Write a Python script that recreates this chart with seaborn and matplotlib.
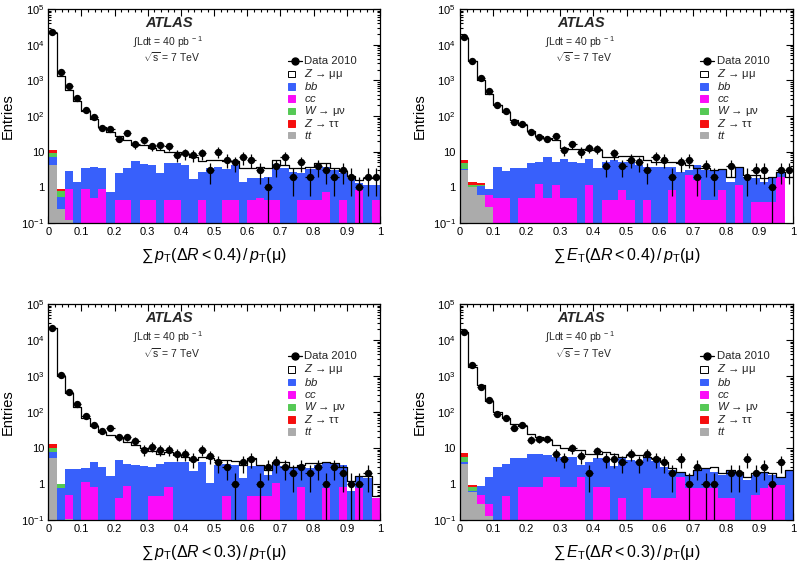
import numpy as np
import pandas as pd
import matplotlib
matplotlib.use("Agg")
import matplotlib.pyplot as plt
import seaborn as sns
from matplotlib.patches import Rectangle
from matplotlib.lines import Line2D
from matplotlib.ticker import MultipleLocator, LogLocator, FuncFormatter, NullFormatter

sns.set_theme(style="ticks")
plt.rcParams['font.family'] = ['Liberation Sans', 'DejaVu Sans']
plt.rcParams['mathtext.fontset'] = 'custom'
plt.rcParams['mathtext.rm'] = 'Liberation Sans'
plt.rcParams['mathtext.it'] = 'Liberation Sans:italic'
plt.rcParams['mathtext.bf'] = 'Liberation Sans:bold'
plt.rcParams['axes.edgecolor'] = 'black'

# ---------------- data (40 bins of width 0.025 on [0, 1]) ----------------
bin_lo, bin_hi, n_bins = 0.0, 1.0, 40

# panel 1 : sum pT (dR<0.4) / pT(mu)
p1_data = [23000, 1700, 690, 315, 148, 92, 46, 43, 23, 34,
           16, 21, 14, 15, 14, 8, 9, 8, 9, 3,
           10, 6, 5, 7, 6, 3, 1, 4, 7, 2,
           5, 2, 4, 3, 2, 3, 2, 1, 2, 2]
p1_total = [21000, 1300, 520, 270, 140, 80, 50, 35, 27, 21,
            15, 15, 13, 11, 10, 10, 8.5, 7.3, 5.5, 5.8,
            5.8, 5.5, 5.5, 3.4, 3.4, 3.8, 3.4, 5.8, 4.2, 3.4,
            3.4, 3.8, 4.9, 4.9, 3.4, 2.8, 2.1, 1.6, 1.8, 1.8]
p1_bb = [7.2, 0.55, 2.8, 1.45, 3.4, 3.8, 3.4, 0.75, 2.6, 3.4,
         5.6, 4.5, 4.3, 2.5, 4.9, 4.9, 4.3, 1.7, 2.75, 3.4,
         3.7, 3.2, 4.3, 1.45, 1.8, 1.8, 2.0, 4.4, 3.4, 2.7,
         2.5, 3.2, 3.2, 3.8, 3.0, 2.5, 1.8, 1.35, 1.15, 1.15]
p1_cc = [0, 0, 0.9, 0, 0.9, 0.5, 0.9, 0, 0.45, 0.45,
         0, 0.45, 0.45, 0, 0.45, 0.45, 0, 0, 0.45, 0,
         0, 0.45, 0.45, 0, 0.45, 0.5, 0.45, 0.45, 0, 0,
         0.45, 0.45, 0.45, 0.75, 0, 0.45, 0, 0.85, 0, 0.45]
p1_tt = [4.2, 0.25, 0.12]
p1_wmn = [9.0, 0.81]
p1_ztt = [11.0, 0.9]

# panel 2 : sum ET (dR<0.4) / pT(mu)
p2_data = [16000, 3500, 1150, 500, 210, 140, 66, 60, 36, 25,
           23, 28, 11, 16, 10, 13, 12, 4, 9, 4,
           6, 5, 3, 7, 6, 2, 5, 6, 2, 4,
           2, 0, 4, 0, 2, 3, 3, 1, 3, 3]
p2_total = [15000, 3500, 1000, 420, 200, 130, 75, 55, 38, 28,
            24, 21, 13, 12, 12, 11, 11, 7, 7, 7.5,
            7.5, 7.5, 5.8, 5.3, 5.3, 5.3, 4.7, 4.2, 3.4, 3.4,
            3.0, 3.2, 2.0, 3.8, 2.2, 2.2, 1.8, 2.0, 2.7, 2.0]
p2_bb = [3.3, 1.05, 1.1, 0.9, 3.8, 2.8, 3.4, 3.4, 4.9, 5.0,
         7.0, 5.0, 6.1, 5.2, 4.7, 6.2, 3.4, 5.2, 6.0, 5.0,
         5.0, 4.2, 3.8, 3.8, 3.8, 3.6, 2.75, 3.1, 4.2, 3.0,
         3.0, 3.0, 1.45, 3.4, 2.0, 1.8, 1.45, 1.8, 2.5, 0]
p2_cc = [0, 0, 0, 0.6, 0.5, 0.5, 0, 0.5, 0.5, 1.25,
         0.5, 1.15, 0.5, 0.5, 0, 1.2, 0, 0.45, 0.45, 0.85,
         0.44, 0, 0.44, 0, 0, 0.85, 0, 2.2, 1.6, 0.45,
         0.45, 0.85, 0, 1.15, 0, 0.4, 0.4, 0.4, 2.0, 0]
p2_tt = [3.0, 1.0, 0.6, 0.28]
p2_wmn = [4.7, 1.2, 1.15]
p2_ztt = [6.0, 1.45, 1.3]

# panel 3 : sum pT (dR<0.3) / pT(mu)
p3_data = [22000, 1070, 365, 170, 75, 43, 30, 35, 20, 20,
           16, 9, 11, 9, 9, 7, 7, 5, 9, 6,
           4, 3, 1, 4, 5, 1, 3, 4, 3, 2,
           3, 2, 3, 1, 3, 2, 1, 1, 2, 0]
p3_total = [21000, 1000, 330, 140, 66, 40, 28, 23, 20, 15,
            12, 10, 8, 7, 7.5, 6.5, 5.5, 4.5, 5.5, 5.2,
            4.6, 4.6, 4.3, 3.4, 5.4, 3.4, 2.4, 4.2, 4.2, 3.0,
            3.4, 3.8, 3.8, 4.0, 3.8, 3.0, 1.2, 1.7, 1.7, 0.45]
p3_bb = [7.9, 0.76, 2.6, 2.6, 2.7, 4.2, 3.0, 1.7, 4.6, 3.6,
         3.4, 3.1, 2.9, 3.6, 4.1, 4.1, 4.1, 2.3, 4.0, 1.1,
         3.4, 3.5, 3.4, 1.5, 3.2, 3.4, 1.8, 4.2, 3.2, 3.0,
         3.2, 2.7, 3.4, 3.8, 3.5, 3.4, 0.65, 1.6, 1.45, 0.4]
p3_cc = [0, 0, 0.5, 0, 1.15, 0.85, 0, 0, 0.42, 0.87,
         0, 0, 0.45, 0.45, 0.8, 0, 0, 0, 0, 0,
         0, 0.45, 0, 0, 0.45, 0.45, 0.45, 1.1, 0, 0,
         0.85, 0, 0, 0.75, 0, 0.85, 0, 0.75, 0, 0.4]
p3_tt = [5.2, 0, 0.11]
p3_wmn = [10.0, 1.0]
p3_ztt = [13.0, 1.0]

# panel 4 : sum ET (dR<0.3) / pT(mu)
p4_data = [17000, 2000, 480, 210, 90, 69, 35, 43, 17, 18,
           18, 7, 5, 10, 6, 2, 8, 5, 5, 4,
           7, 4, 7, 5, 4, 2, 5, 1, 3, 1,
           1, 0, 2, 2, 5, 2, 3, 1, 4, 0]
p4_total = [17000, 1800, 560, 200, 100, 70, 45, 40, 25, 20,
            17, 12, 10, 9, 9, 7, 7, 7.5, 7, 5.7,
            6.4, 6.4, 5.7, 5.4, 4.2, 2.7, 2.2, 1.8, 2.4, 2.7,
            3.0, 2.0, 2.4, 2.2, 1.6, 2.0, 2.2, 2.0, 1.6, 2.4]
p4_bb = [4.1, 0.65, 0.86, 1.6, 3.0, 3.5, 5.2, 5.2, 7.0, 7.0,
         6.3, 5.8, 5.8, 5.5, 3.3, 4.2, 5.2, 5.2, 3.1, 5.2,
         4.6, 4.4, 5.2, 4.4, 3.0, 2.4, 2.0, 1.7, 2.4, 2.7,
         2.2, 1.8, 2.4, 2.2, 1.3, 1.8, 2.0, 1.8, 1.5, 2.4]
p4_cc = [0, 0, 0.5, 0.28, 0, 0.45, 0, 0.8, 0.8, 0.8,
         1.6, 1.6, 0.8, 0.8, 1.6, 0, 0.8, 0.8, 0, 0.4,
         0, 0, 0.75, 0.4, 0.4, 0.4, 1.6, 0.75, 0.75, 0.75,
         0.75, 0.4, 0.4, 0, 0, 0.5, 0.75, 0.95, 0.95, 0]
p4_tt = [3.7, 0.6, 0.28, 0.13]
p4_wmn = [5.5, 0.8]
p4_ztt = [7.2, 0.92]

xlabels = [r"$\sum\, p_{\rm T}(\Delta R < 0.4)\,/\,p_{\rm T}(\mathrm{\mu})$",
           r"$\sum\, E_{\rm T}(\Delta R < 0.4)\,/\,p_{\rm T}(\mathrm{\mu})$",
           r"$\sum\, p_{\rm T}(\Delta R < 0.3)\,/\,p_{\rm T}(\mathrm{\mu})$",
           r"$\sum\, E_{\rm T}(\Delta R < 0.3)\,/\,p_{\rm T}(\mathrm{\mu})$"]
legend_labels = ["Data 2010", r"$Z$ → μμ", r"$bb$", r"$cc$",
                 r"$W$ → μν", r"$Z$ → ττ", r"$tt$"]

C_BB = "#3860fb"
C_CC = "#fb0cf8"
C_W = "#55c955"
C_ZTT = "#f50e0e"
C_TT = "#ababab"

edges = np.linspace(bin_lo, bin_hi, n_bins + 1)
centers = 0.5 * (edges[:-1] + edges[1:])
half_w = 0.5 * (edges[1] - edges[0])
bin_list = [float(e) for e in edges]


def pad(vals, ref):
    out = np.array(ref, dtype=float).copy()
    out[:len(vals)] = vals
    return out


def draw_panel(ax, data, total, bb, cc, tt, wmn, ztt, xlabel):
    ax.set_yscale('log')
    bb = np.array(bb, float)
    df = pd.DataFrame({
        "x": centers,
        "total": np.array(total, float),
        "ztt": pad(ztt, bb),
        "wmn": pad(wmn, bb),
        "bb": bb,
        "cc": np.array(cc, float),
        "tt": pad(tt, np.zeros(n_bins)),
    })
    layers = [("total", 'white'), ("ztt", C_ZTT), ("wmn", C_W),
              ("bb", C_BB), ("cc", C_CC), ("tt", C_TT)]
    for col, colr in layers:
        sns.histplot(data=df, x="x", weights=col, bins=bin_list, element='step', fill=True,
                     color=colr, alpha=1, linewidth=0, ax=ax)
    sns.histplot(data=df, x="x", weights="total", bins=bin_list, element='step',
                 fill=False, color='black', linewidth=0.9, ax=ax)

    d = np.array(data, float)
    m = d > 0
    ax.errorbar(centers[m], d[m], yerr=np.sqrt(d[m]), xerr=half_w, fmt='none',
                ecolor='black', elinewidth=0.9, capsize=0, zorder=5)
    dd = pd.DataFrame({"x": centers[m], "n": d[m]})
    sns.scatterplot(data=dd, x="x", y="n", color='black', s=28, edgecolor='black',
                    linewidth=0, ax=ax, zorder=6, legend=False)

    ax.set_xlim(0, 1)
    ax.set_ylim(0.1, 1e5)
    ax.xaxis.set_major_locator(MultipleLocator(0.1))
    ax.xaxis.set_minor_locator(MultipleLocator(0.02))
    ax.xaxis.set_major_formatter(FuncFormatter(
        lambda v, _: "0" if abs(v) < 1e-9 else ("1" if abs(v - 1) < 1e-9 else f"{v:.1f}")))
    ax.yaxis.set_major_locator(LogLocator(base=10, numticks=10))
    ax.yaxis.set_minor_locator(LogLocator(base=10, subs=np.arange(2, 10), numticks=20))
    ax.yaxis.set_minor_formatter(NullFormatter())

    def yfmt(v, _):
        e = int(round(np.log10(v)))
        if e == 0:
            return "1"
        if e == 1:
            return "10"
        return r"$10^{%d}$" % e
    ax.yaxis.set_major_formatter(FuncFormatter(yfmt))
    ax.tick_params(which='both', direction='in', top=True, right=True, labelsize=8,
                   colors='black', width=0.8)
    ax.tick_params(which='major', length=5, pad=3)
    ax.tick_params(which='minor', length=2.5)
    for s in ax.spines.values():
        s.set_linewidth(0.9)
        s.set_color('black')

    ax.set_ylabel("Entries", fontsize=10.5, color='black')
    ax.yaxis.set_label_coords(-0.10, 0.5)
    ax.set_xlabel(xlabel, fontsize=11.5, color='black', va='top')
    ax.xaxis.set_label_coords(0.5, -0.11)

    # text block
    ax.text(0.364, 0.935, "ATLAS", transform=ax.transAxes, ha='center', va='center',
            fontsize=10.5, fontweight='bold', fontstyle='italic')
    ax.text(0.256, 0.847, r"$\int$Ldt = 40 pb$^{\ -1}$", transform=ax.transAxes,
            ha='left', va='center', fontsize=7.5)
    ax.text(0.284, 0.774, r"$\sqrt{\mathrm{s}}$ = 7 TeV", transform=ax.transAxes,
            ha='left', va='center', fontsize=7.5)

    # legend
    rows = [0.758, 0.697, 0.639, 0.581, 0.523, 0.466, 0.411]
    bx0, bw, bh = 0.722, 0.022, 0.031
    tx = 0.771
    ax.add_line(Line2D([bx0, bx0 + 0.042], [rows[0], rows[0]], transform=ax.transAxes,
                       color='black', lw=0.9))
    ax.add_line(Line2D([bx0 + 0.021], [rows[0]], transform=ax.transAxes, marker='o',
                       ms=5, color='black'))
    fills = [('white', 'black'), (C_BB, C_BB), (C_CC, C_CC), (C_W, C_W), (C_ZTT, C_ZTT), (C_TT, C_TT)]
    for (fc, ec), y in zip(fills, rows[1:]):
        ax.add_patch(Rectangle((bx0, y - bh / 2), bw, bh, transform=ax.transAxes,
                               facecolor=fc, edgecolor=ec, lw=0.7, zorder=7))
    for lab, y in zip(legend_labels, rows):
        ax.text(tx, y, lab, transform=ax.transAxes, ha='left', va='center', fontsize=8.2)


fig = plt.figure(figsize=(7.98, 5.69), dpi=100)
W_, H_ = 798.0, 569.0
boxes = [(48.3, 9, 380, 223), (460, 9, 793, 223), (48.3, 304, 380, 520), (460, 304, 793, 520)]
panels = [
    (p1_data, p1_total, p1_bb, p1_cc, p1_tt, p1_wmn, p1_ztt),
    (p2_data, p2_total, p2_bb, p2_cc, p2_tt, p2_wmn, p2_ztt),
    (p3_data, p3_total, p3_bb, p3_cc, p3_tt, p3_wmn, p3_ztt),
    (p4_data, p4_total, p4_bb, p4_cc, p4_tt, p4_wmn, p4_ztt),
]
for (x0, y0, x1, y1), pdata, xl in zip(boxes, panels, xlabels):
    ax = fig.add_axes([x0 / W_, 1 - y1 / H_, (x1 - x0) / W_, (y1 - y0) / H_])
    draw_panel(ax, *pdata, xl)

fig.savefig("out.png", dpi=100)
